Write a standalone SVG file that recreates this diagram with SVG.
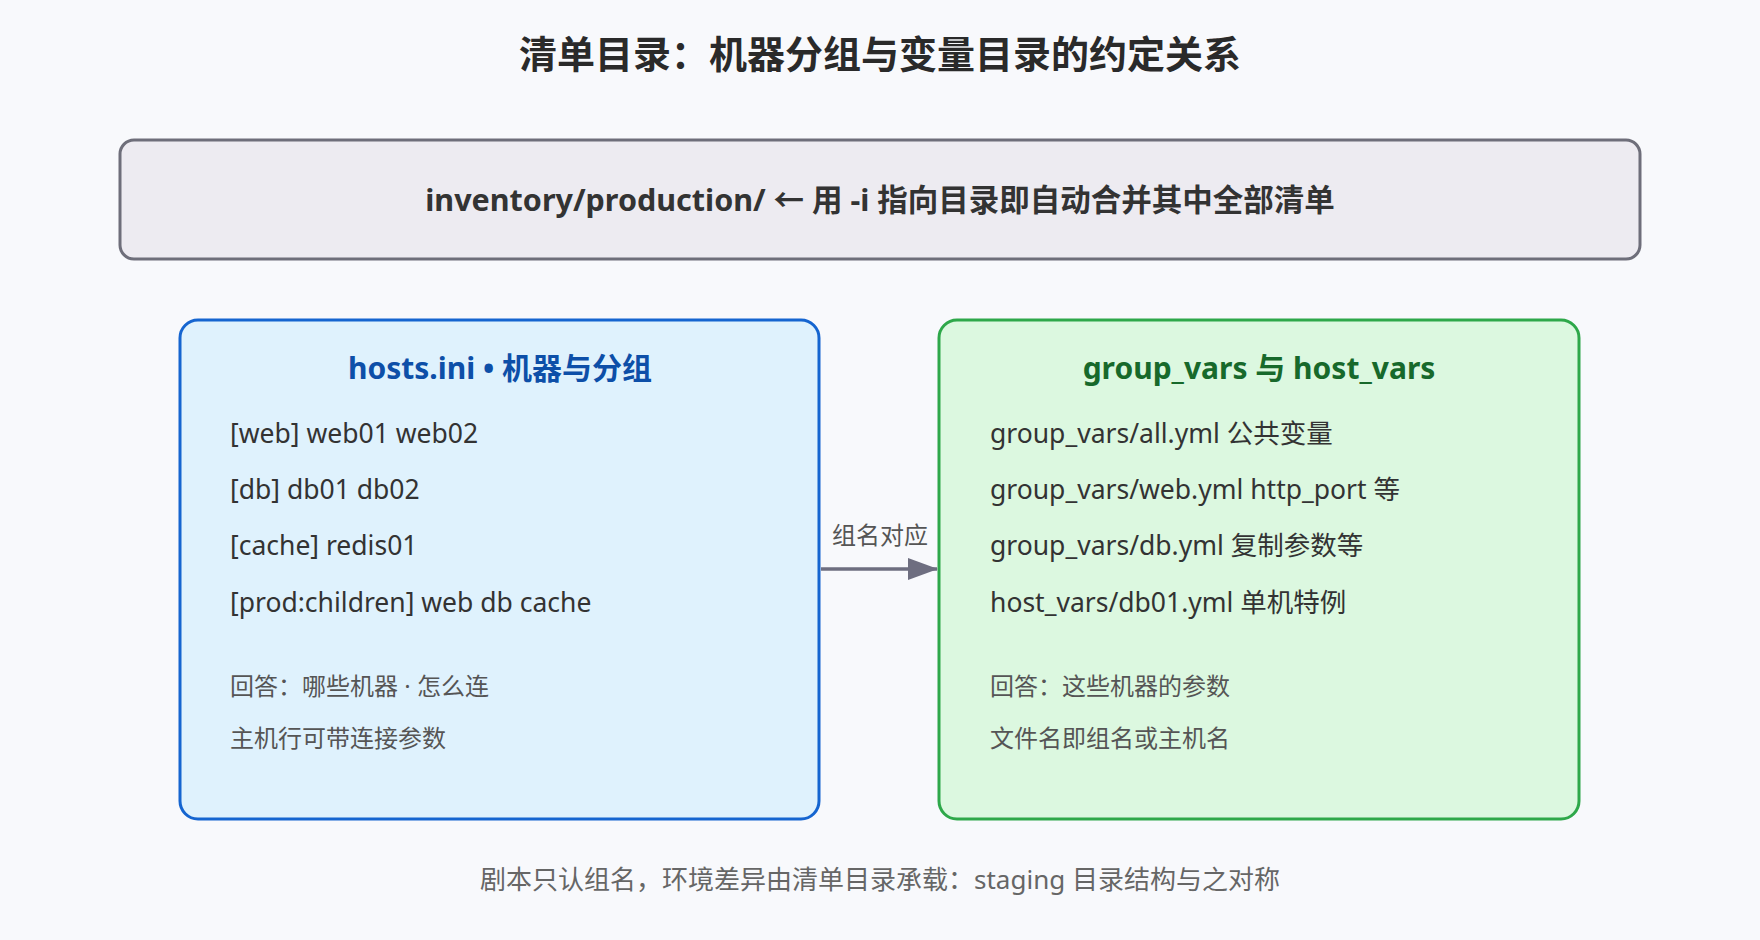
<svg xmlns="http://www.w3.org/2000/svg" width="1760" height="940" viewBox="0 0 1760 940">
<style>
text{font-family:"Noto Sans","Noto Sans CJK SC",sans-serif}
.t{font-size:38px;font-weight:bold;fill:#2a2a2a;text-anchor:middle}
.h{font-size:30px;font-weight:bold;text-anchor:middle}
.b{font-size:26.5px;fill:#333}
.g{font-size:24px;fill:#555}
.f{font-size:26px;fill:#666;text-anchor:middle}
</style>
<defs><marker id="a" markerWidth="30" markerHeight="22" refX="29" refY="11" orient="auto" markerUnits="userSpaceOnUse"><path d="M0,0 L30,11 L0,22 Z" fill="#6e6e80"/></marker></defs>
<rect width="1760" height="940" fill="#f8f9fc"/>
<text class="t" x="880" y="68">清单目录：机器分组与变量目录的约定关系</text>
<g id="top"><rect x="120" y="140" width="1520" height="119" rx="14" fill="#edebf1" stroke="#6e6e7a" stroke-width="3"/>
<text x="880" y="211" font-size="30.5" font-weight="bold" fill="#333" text-anchor="middle">inventory/production/ ← 用 -i 指向目录即自动合并其中全部清单</text></g>
<g id="hosts"><rect x="180" y="320" width="639" height="499" rx="18" fill="#dff2fd" stroke="#1565d0" stroke-width="3"/>
<text class="h" x="500" y="379" fill="#0d4fa8">hosts.ini • 机器与分组</text>
<text class="b" x="230" y="443">[web] web01 web02</text>
<text class="b" x="230" y="499">[db] db01 db02</text>
<text class="b" x="230" y="555">[cache] redis01</text>
<text class="b" x="230" y="612">[prod:children] web db cache</text>
<text class="g" x="230" y="695">回答：哪些机器 · 怎么连</text>
<text class="g" x="230" y="747">主机行可带连接参数</text></g>
<g id="vars"><rect x="939" y="320" width="640" height="499" rx="18" fill="#dcf8e0" stroke="#2ea84a" stroke-width="3"/>
<text class="h" x="1259" y="379" fill="#17692b">group_vars 与 host_vars</text>
<text class="b" x="990" y="443">group_vars/all.yml 公共变量</text>
<text class="b" x="990" y="499">group_vars/web.yml http_port 等</text>
<text class="b" x="990" y="555">group_vars/db.yml 复制参数等</text>
<text class="b" x="990" y="612">host_vars/db01.yml 单机特例</text>
<text class="g" x="990" y="695">回答：这些机器的参数</text>
<text class="g" x="990" y="747">文件名即组名或主机名</text></g>
<g id="connectors"><line x1="821" y1="569" x2="937" y2="569" stroke="#6e6e80" stroke-width="3.5" marker-end="url(#a)"/>
<text x="880" y="544" font-size="24" fill="#555" text-anchor="middle">组名对应</text></g>
<text class="f" x="880" y="889">剧本只认组名，环境差异由清单目录承载：staging 目录结构与之对称</text>
</svg>
